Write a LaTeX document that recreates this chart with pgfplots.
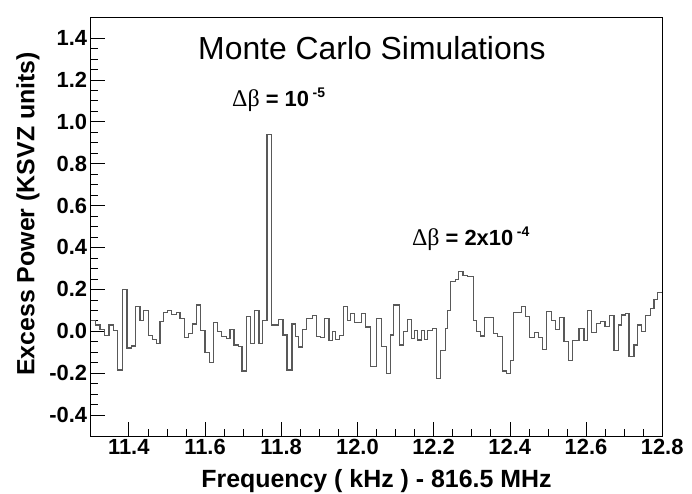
\documentclass[border=0pt]{standalone}
\usepackage{pgfplots}
\pgfplotsset{compat=1.18}
\usepackage{fontspec}
\setmainfont{Liberation Sans}
\newfontfamily\greekserif{Liberation Serif}

% Excess power per frequency bin (step outline: left edge of each step, value)
\pgfplotstableread{
f        p
11.3000  0.050
11.3126  0.030
11.3244  0.010
11.3362 -0.020
11.3480  0.030
11.3598  0.005
11.3708 -0.185
11.3826  0.200
11.3952 -0.080
11.4062 -0.070
11.4175  0.120
11.4293  0.050
11.4385  0.100
11.4511 -0.020
11.4626 -0.040
11.4731 -0.060
11.4818  0.045
11.4904  0.090
11.5015  0.100
11.5127  0.080
11.5256  0.090
11.5343  0.060
11.5461 -0.030
11.5566 -0.010
11.5671  0.035
11.5770  0.125
11.5886  0.005
11.5998 -0.100
11.6111 -0.150
11.6216  0.040
11.6326  0.000
11.6437 -0.026
11.6557 -0.035
11.6654  0.010
11.6759 -0.066
11.6883 -0.074
11.6969 -0.190
11.7082  0.070
11.7187 -0.058
11.7297  0.100
11.7415 -0.058
11.7512  0.050
11.7625  0.940
11.7748  0.030
11.7921  0.055
11.8045 -0.018
11.8150 -0.185
11.8281  0.035
11.8373 -0.026
11.8457 -0.075
11.8569  0.010
11.8674  0.060
11.8813  0.075
11.8923 -0.025
11.9034 -0.030
11.9139  0.060
11.9257 -0.045
11.9343  0.000
11.9427 -0.040
11.9527 -0.020
11.9645  0.120
11.9750  0.050
11.9821  0.085
11.9926  0.040
12.0104  0.085
12.0222  0.020
12.0340 -0.170
12.0511  0.060
12.0642 -0.074
12.0755 -0.200
12.0870 -0.018
12.0957  0.125
12.1106 -0.066
12.1219  0.000
12.1305  0.056
12.1410 -0.034
12.1500  0.005
12.1586 -0.042
12.1673  0.005
12.1762 -0.040
12.1848  0.005
12.1980  0.014
12.2066 -0.225
12.2182 -0.090
12.2302  0.014
12.2373  0.100
12.2444  0.236
12.2565  0.248
12.2654  0.285
12.2774  0.268
12.2898  0.260
12.3042  0.050
12.3134  0.000
12.3226 -0.023
12.3344  0.065
12.3572 -0.010
12.3672 -0.025
12.3798 -0.190
12.3913 -0.200
12.4026 -0.140
12.4104  0.088
12.4314  0.120
12.4419  0.070
12.4524 -0.030
12.4642 -0.005
12.4760 -0.030
12.4857 -0.087
12.4970  0.096
12.5088  0.050
12.5206  0.010
12.5311  0.065
12.5424 -0.050
12.5534 -0.140
12.5639 -0.045
12.5817  0.014
12.5949 -0.045
12.6038  0.100
12.6151 -0.007
12.6274  0.037
12.6387  0.045
12.6500  0.022
12.6623  0.077
12.6736 -0.090
12.6851  0.030
12.6938  0.078
12.7043  0.085
12.7129 -0.120
12.7260 -0.066
12.7349  0.030
12.7462  0.000
12.7567  0.077
12.7698  0.110
12.7785  0.150
12.7874  0.185
12.8000  0.185
}\excesspower

\begin{document}
\begin{tikzpicture}
\path[use as bounding box] (-90.7bp,-58bp) rectangle (601.3bp,436bp);
\begin{axis}[
  at={(0,0)}, anchor=south west,
  scale only axis,
  width=571.5bp, height=419bp,
  xmin=11.3, xmax=12.8, ymin=-0.5, ymax=1.5,
  axis line style={line width=0.8bp, black},
  xtick={11.4,11.6,11.8,12.0,12.2,12.4,12.6,12.8},
  ytick={-0.4,-0.2,0,0.2,0.4,0.6,0.8,1.0,1.2,1.4},
  minor x tick num=3, minor y tick num=3,
  tick align=inside, xtick pos=bottom, ytick pos=left,
  major tick length=14bp, minor tick length=7bp,
  every tick/.style={line width=0.6bp, black},
  tick label style={font=\fontsize{22}{24}\selectfont\bfseries},
  /pgf/number format/.cd, fixed, fixed zerofill, precision=1, assume math mode=true,
  /pgfplots/.cd,
  clip=false,
]
\addplot[const plot mark left, black!65, line width=1.2bp] table[x=f, y=p] {\excesspower};

\node[anchor=base, font=\fontsize{32}{34}\selectfont] at (axis cs:12.038,1.295) {Monte Carlo Simulations};
\node[anchor=base west, inner sep=0pt, font=\fontsize{22}{24}\selectfont\bfseries]
  at (axis cs:11.6707,1.071) {{\greekserif\mdseries\fontsize{24}{26}\selectfont Δβ} = 10\,\raisebox{9bp}{\fontsize{14}{14}\selectfont -5}};
\node[anchor=base west, inner sep=0pt, font=\fontsize{22}{24}\selectfont\bfseries]
  at (axis cs:12.1429,0.407) {{\greekserif\mdseries\fontsize{24}{26}\selectfont Δβ} = 2x10\,\raisebox{9bp}{\fontsize{14}{14}\selectfont -4}};

\node[anchor=base, font=\fontsize{25}{27}\selectfont\bfseries]
  at (axis description cs:0.5,0) [yshift=-51bp] {Frequency ( kHz ) - 816.5 MHz};
\node[xshift=-62.7bp, rotate=90, anchor=center, font=\fontsize{25}{27}\selectfont\bfseries]
  at (axis description cs:0,0.53) {Excess Power (KSVZ units)};
\end{axis}
\end{tikzpicture}
\end{document}
